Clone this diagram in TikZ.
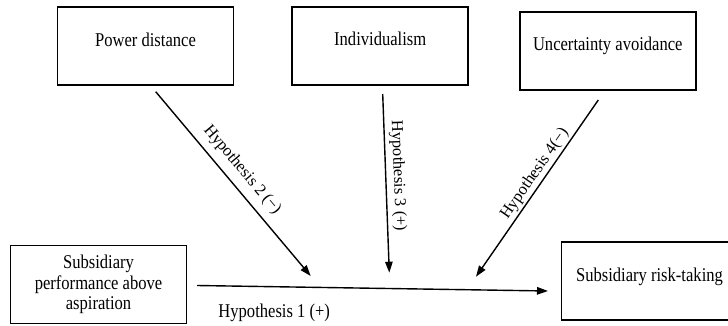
\documentclass[tikz,border=0pt]{standalone}
\usepackage{fontspec}
\setmainfont{Liberation Serif}
\newfontfamily\boxfamily{Liberation Serif}[FakeStretch=0.85]
\usetikzlibrary{arrows.meta}
\newcommand\boxfont{\boxfamily\fontsize{19.5}{20.5}\selectfont}
\newcommand\hypfont{\fontsize{16.5}{20}\selectfont}
\tikzset{
  factor/.style={draw, line width=1.7pt, minimum width=176pt, minimum height=78pt, inner sep=0pt, font=\boxfont},
  topped/.style={text height=14pt, text depth=14pt},
  hyparrow/.style={line width=1.4pt, -{Triangle[length=11pt,width=7.5pt]}},
  hyplabel/.style={font=\hypfont, inner sep=3pt}
}
\begin{document}
\begin{tikzpicture}[x=1pt, y=-1pt]
	\useasboundingbox (0,0) rectangle (728,326);
	% cultural dimensions
	\node[factor, topped] (pd) at (145.5,46.2) {Power distance};
	\node[factor, topped] (ind) at (380.2,45.8) {Individualism};
	\node[factor, topped] (ua) at (607.8,51) {Uncertainty avoidance};
	% main relation
	\node[factor, align=center] (perf) at (98.5,284.5) {Subsidiary\\performance above\\aspiration};
	\node[factor, topped] (risk) at (649.5,281.3) {Subsidiary risk-taking};

	\coordinate (h1s) at (197,285.5);
	\coordinate (h1e) at (548,291);
	\coordinate (h2s) at (155.7,91.7);
	\coordinate (h2e) at (310.7,276);
	\coordinate (h3s) at (382.7,94);
	\coordinate (h3e) at (389.3,272.7);
	\coordinate (h4s) at (598.3,100);
	\coordinate (h4e) at (476,276.7);

	\draw[hyparrow] (h1s) -- node[hyplabel, font=\boxfont, below=13.5pt, pos=0.22] (h1) {Hypothesis 1 (+)} (h1e);
	\draw[hyparrow] (h2s) -- node[hyplabel, sloped, above=4.5pt, pos=0.48] (h2) {Hypothesis 2 (−)} (h2e);
	\draw[hyparrow] (h3s) -- node[hyplabel, sloped, above=1pt, pos=0.46] (h3) {Hypothesis 3 (+)} (h3e);
	\draw[hyparrow] (h4s) -- node[hyplabel, sloped, above=-1pt, pos=0.45] (h4) {Hypothesis 4(−)} (h4e);
\end{tikzpicture}
\end{document}
